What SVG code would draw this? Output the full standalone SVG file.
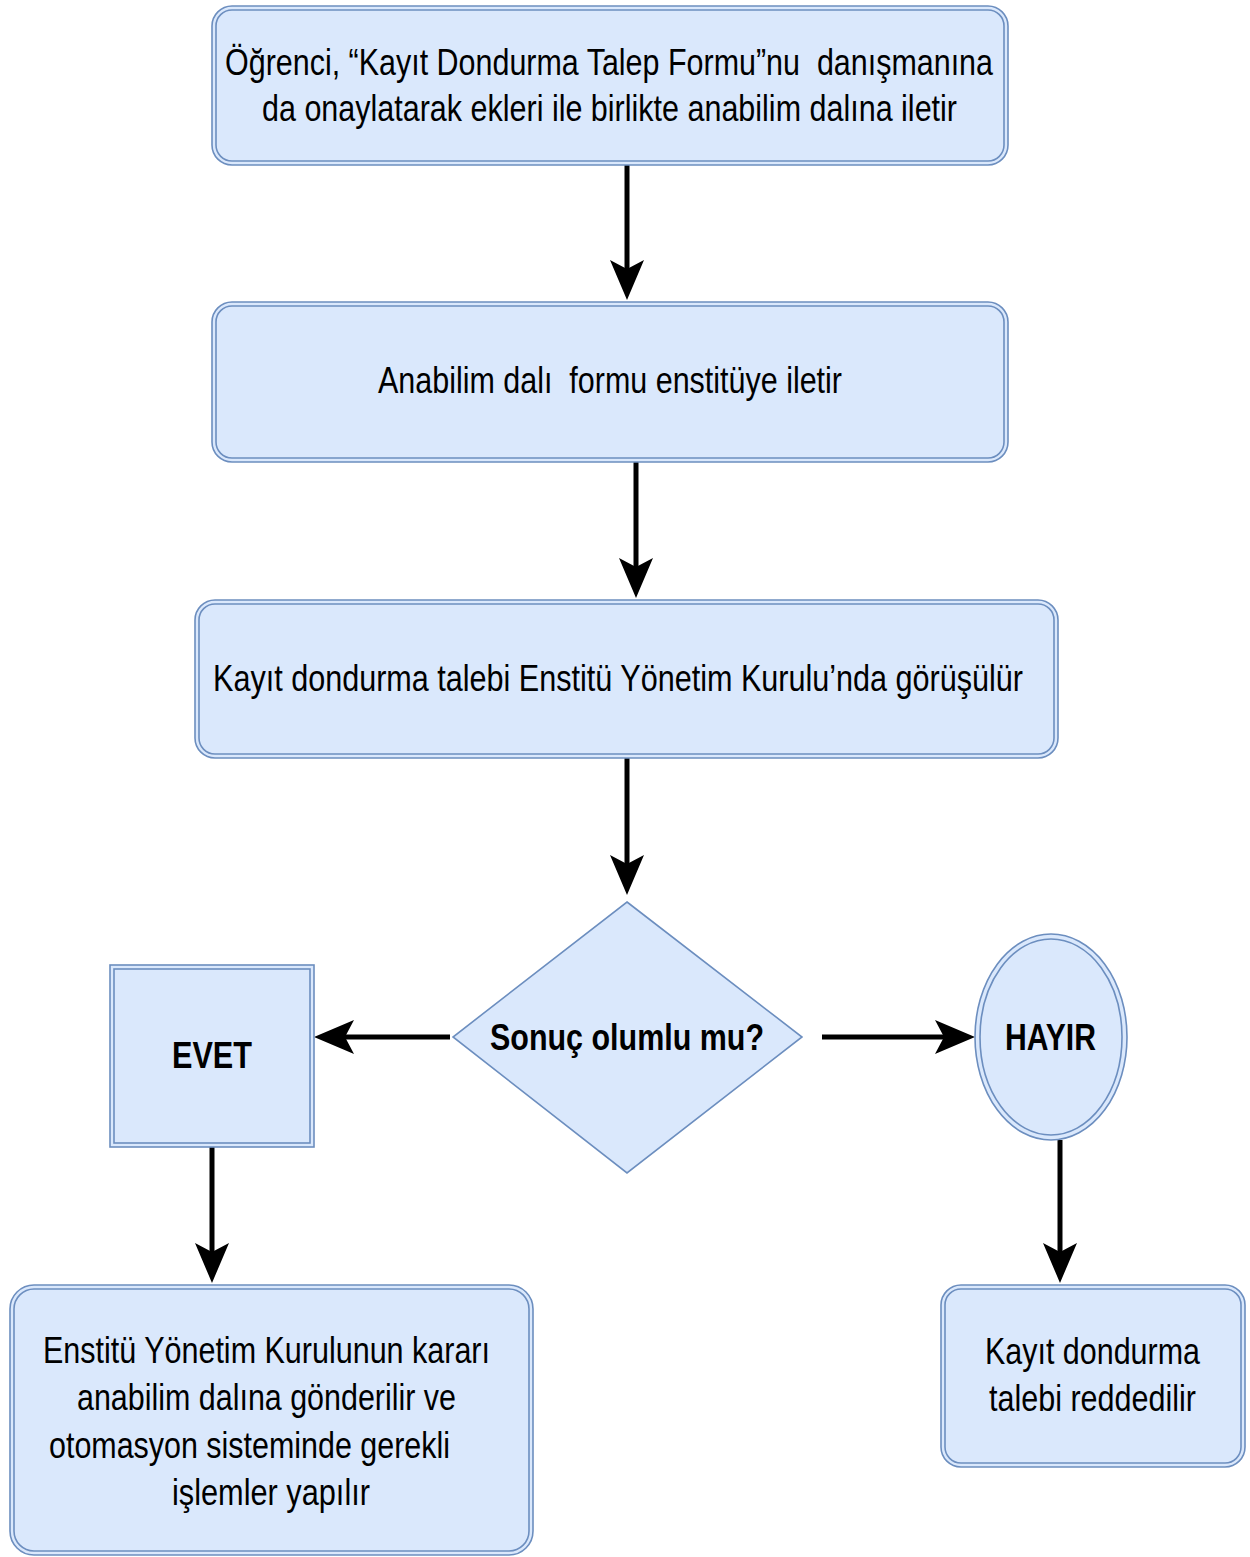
<svg xmlns="http://www.w3.org/2000/svg" width="1250" height="1557" viewBox="0 0 1250 1557">
<style>
.box{fill:#dae8fc;stroke:#6c8ebf;stroke-width:1.6}
.inner{fill:none;stroke:#6c8ebf;stroke-width:1.6}
.t{font-family:"Liberation Sans",Arial,sans-serif;font-size:36px;fill:#000;white-space:pre}
.b{font-weight:bold}
.c{stroke:#000;stroke-width:5;fill:none}
</style>
<defs>
<marker id="ah" markerUnits="userSpaceOnUse" markerWidth="40" markerHeight="34" viewBox="0 0 40 34" refX="9" refY="17" orient="auto">
<path d="M0,0 L40,17 L0,34 L9,17 Z" fill="#000"/>
</marker>
</defs>
<rect width="1250" height="1557" fill="#fff"/>
<g id="connectors">
<line class="c" x1="627" y1="165" x2="627" y2="269" marker-end="url(#ah)"/>
<line class="c" x1="636" y1="462" x2="636" y2="567" marker-end="url(#ah)"/>
<line class="c" x1="627" y1="758" x2="627" y2="864" marker-end="url(#ah)"/>
<line class="c" x1="450" y1="1037" x2="345" y2="1037" marker-end="url(#ah)"/>
<line class="c" x1="822" y1="1037" x2="944" y2="1037" marker-end="url(#ah)"/>
<line class="c" x1="212" y1="1147" x2="212" y2="1252" marker-end="url(#ah)"/>
<line class="c" x1="1060" y1="1140" x2="1060" y2="1252" marker-end="url(#ah)"/>
</g>
<g id="n1">
<rect class="box" x="212" y="6" width="796" height="159" rx="20"/>
<rect class="inner" x="216" y="10" width="788" height="151" rx="16"/>
<text class="t" x="225" y="75" textLength="768" lengthAdjust="spacingAndGlyphs">Öğrenci, “Kayıt Dondurma Talep Formu”nu  danışmanına</text>
<text class="t" x="262" y="121" textLength="695" lengthAdjust="spacingAndGlyphs">da onaylatarak ekleri ile birlikte anabilim dalına iletir</text>
</g>
<g id="n2">
<rect class="box" x="212" y="302" width="796" height="160" rx="20"/>
<rect class="inner" x="216" y="306" width="788" height="152" rx="16"/>
<text class="t" x="378" y="393" textLength="464" lengthAdjust="spacingAndGlyphs">Anabilim dalı  formu enstitüye iletir</text>
</g>
<g id="n3">
<rect class="box" x="195" y="600" width="863" height="158" rx="20"/>
<rect class="inner" x="199" y="604" width="855" height="150" rx="16"/>
<text class="t" x="213" y="691" textLength="810" lengthAdjust="spacingAndGlyphs">Kayıt dondurma talebi Enstitü Yönetim Kurulu’nda görüşülür</text>
</g>
<g id="decision">
<polygon class="box" points="627,902 802,1037 627,1173 453,1037"/>
<text class="t b" x="490" y="1050" textLength="274" lengthAdjust="spacingAndGlyphs">Sonuç olumlu mu?</text>
</g>
<g id="evet">
<rect class="box" x="110" y="965" width="204" height="182"/>
<rect class="inner" x="114" y="969" width="196" height="174"/>
<text class="t b" x="172" y="1068" textLength="80" lengthAdjust="spacingAndGlyphs">EVET</text>
</g>
<g id="hayir">
<ellipse class="box" cx="1051" cy="1037" rx="76" ry="103"/>
<ellipse class="inner" cx="1051" cy="1037" rx="71" ry="98"/>
<text class="t b" x="1005" y="1050" textLength="91" lengthAdjust="spacingAndGlyphs">HAYIR</text>
</g>
<g id="n-evet-result">
<rect class="box" x="10" y="1285" width="523" height="270" rx="24"/>
<rect class="inner" x="14" y="1289" width="515" height="262" rx="20"/>
<text class="t" x="43" y="1363" textLength="447" lengthAdjust="spacingAndGlyphs">Enstitü Yönetim Kurulunun kararı</text>
<text class="t" x="77" y="1410" textLength="379" lengthAdjust="spacingAndGlyphs">anabilim dalına gönderilir ve</text>
<text class="t" x="49" y="1458" textLength="401" lengthAdjust="spacingAndGlyphs">otomasyon sisteminde gerekli</text>
<text class="t" x="172" y="1505" textLength="198" lengthAdjust="spacingAndGlyphs">işlemler yapılır</text>
</g>
<g id="n-hayir-result">
<rect class="box" x="941" y="1285" width="304" height="182" rx="20"/>
<rect class="inner" x="945" y="1289" width="296" height="174" rx="16"/>
<text class="t" x="985" y="1364" textLength="215" lengthAdjust="spacingAndGlyphs">Kayıt dondurma</text>
<text class="t" x="989" y="1411" textLength="207" lengthAdjust="spacingAndGlyphs">talebi reddedilir</text>
</g>
</svg>
